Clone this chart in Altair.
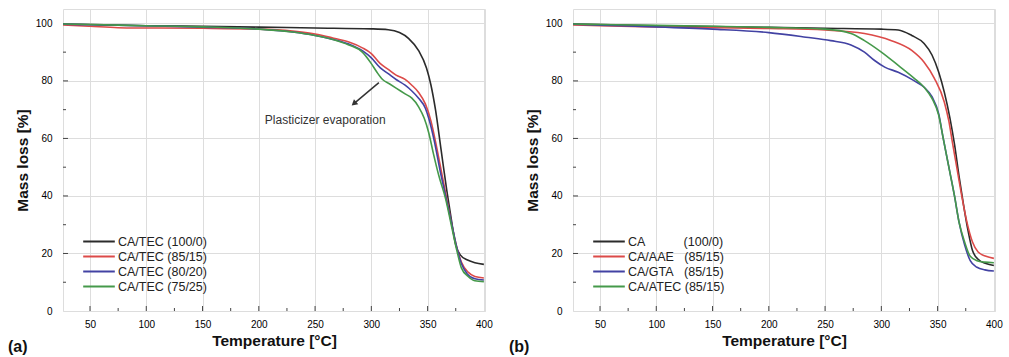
import altair as alt
import pandas as pd

FONT = "Liberation Sans"

# ---------------- panel (a) data ----------------
a_names = ["CA/TEC (100/0)", "CA/TEC (85/15)", "CA/TEC (80/20)", "CA/TEC (75/25)"]
a_colors = ["#2b2b2b", "#dc4a48", "#4242a3", "#45994a"]

a_black_T = [25, 50, 100, 150, 200, 250, 300, 315, 325, 333, 342, 349, 353, 357, 362, 367, 371, 375, 379, 385, 392, 400]
a_black_m = [99.8, 99.6, 99.2, 99.0, 98.7, 98.4, 98.1, 97.8, 96.8, 94.8, 90.5, 84.5, 78.5, 70, 56, 42, 32, 23, 19.5, 17.8, 16.8, 16.2]

a_red_T = [25, 50, 75, 100, 150, 200, 230, 250, 265, 280, 292, 300, 308, 315, 322, 330, 336, 342, 348, 353, 358, 363, 368, 372, 376, 380, 386, 392, 400]
a_red_m = [99.5, 99.0, 98.5, 98.4, 98.3, 98.0, 97.3, 96.3, 95.0, 93.5, 91.5, 89.5, 86.0, 84.0, 82.0, 80.5, 78.5, 76.0, 72.0, 66.0, 57.0, 47.0, 37.0, 29.0, 22.0, 17.0, 13.5, 12.0, 11.5]

a_blue_T = [25, 50, 100, 150, 200, 230, 250, 265, 280, 292, 300, 308, 315, 322, 330, 336, 342, 348, 351, 356, 361, 366, 371, 376, 380, 385, 392, 400]
a_blue_m = [99.7, 99.5, 99.2, 98.7, 98.0, 97.0, 95.8, 94.5, 92.8, 90.5, 88.0, 84.5, 82.5, 80.5, 78.5, 76.5, 74.0, 70.5, 67.0, 59.0, 49.0, 40.0, 31.0, 22.0, 16.5, 13.0, 11.2, 10.8]

a_green_T = [25, 50, 100, 150, 200, 230, 250, 265, 280, 292, 300, 305, 310, 316, 322, 330, 336, 342, 347, 351, 355, 360, 366, 371, 376, 380, 386, 392, 400]
a_green_m = [99.8, 99.6, 99.2, 98.8, 98.0, 97.0, 95.8, 94.5, 92.5, 90.0, 86.0, 83.0, 80.5, 79.0, 77.5, 75.5, 74.0, 71.0, 67.0, 62.0, 55.0, 47.0, 39.0, 30.0, 21.0, 15.0, 12.0, 10.5, 10.2]

# ---------------- panel (b) data ----------------
b_names = ["CA\u00a0\u00a0\u00a0\u00a0\u00a0\u00a0\u00a0\u00a0\u00a0\u00a0\u00a0(100/0)",
           "CA/AAE\u00a0\u00a0\u00a0(85/15)",
           "CA/GTA\u00a0\u00a0\u00a0(85/15)",
           "CA/ATEC (85/15)"]
b_colors = ["#2b2b2b", "#dc4a48", "#4242a3", "#45994a"]

b_black_T = [25, 50, 100, 150, 200, 250, 300, 315, 327, 338, 345, 351, 356, 361, 365, 369, 373, 377, 381, 386, 393, 400]
b_black_m = [99.8, 99.6, 99.2, 98.9, 98.6, 98.3, 98.0, 97.7, 95.8, 93.0, 89.0, 83.0, 76.0, 67.0, 58.0, 47.0, 37.0, 28.0, 21.0, 18.0, 16.5, 15.8]

b_red_T = [25, 50, 100, 150, 200, 250, 285, 309, 327, 338, 347, 356, 360, 363, 367, 371, 376, 381, 386, 393, 400]
b_red_m = [99.5, 99.2, 98.8, 98.5, 98.2, 97.7, 96.5, 94.0, 90.6, 86.5, 81.0, 72.6, 66.0, 59.0, 50.0, 41.0, 31.0, 24.0, 20.5, 19.0, 18.3]

b_blue_T = [25, 50, 100, 150, 200, 233, 255, 273, 285, 294, 303, 315, 329, 338, 345, 351, 355, 360, 365, 369, 374, 379, 385, 392, 400]
b_blue_m = [99.7, 99.4, 98.8, 98.0, 96.8, 95.2, 94.0, 92.5, 90.0, 87.1, 84.8, 83.0, 80.1, 77.8, 74.5, 68.5, 60.0, 50.0, 40.0, 31.0, 23.0, 17.5, 15.2, 14.3, 13.9]

b_green_T = [25, 50, 100, 150, 200, 250, 273, 285, 300, 315, 329, 338, 345, 351, 355, 360, 365, 369, 374, 379, 385, 392, 400]
b_green_m = [99.8, 99.6, 99.3, 99.0, 98.6, 98.0, 96.5, 94.0, 90.0, 85.4, 81.0, 77.8, 73.9, 68.0, 60.0, 50.0, 40.0, 31.0, 24.0, 19.0, 17.5, 17.0, 16.8]

# axis tick values
x_ticks = [50, 100, 150, 200, 250, 300, 350, 400]
x_minor = [50, 75, 100, 125, 150, 175, 200, 225, 250, 275, 300, 325, 350, 375]
y_ticks = [0, 20, 40, 60, 80, 100]
y_minor = [10, 20, 30, 40, 50, 60, 70, 80, 90]

# annotation
ann_text = ["Plasticizer evaporation"]
ann_T, ann_m = [259], [66.5]
arrow_T, arrow_m, arrow_T2, arrow_m2 = [306.7], [79.4], [284.5], [72.1]

W, H = 422, 302
X_DOMAIN = [26, 401]
Y_DOMAIN = [0, 105]
TICK_COLOR = "#444444"
TITLE_SIZE = 15.5


def series_df(names, Ts, ms):
    rows = []
    for name, T, m in zip(names, Ts, ms):
        for t, v in zip(T, m):
            rows.append({"series": name, "T": t, "m": v})
    return pd.DataFrame(rows)


def make_panel(names, colors, Ts, ms, label, legend_x, legend_y, label_x, extra=None):
    xenc = alt.X("T:Q", scale=alt.Scale(domain=X_DOMAIN, nice=False, zero=False),
                 axis=alt.Axis(values=x_ticks, title="Temperature [°C]", grid=True, ticks=False,
                               domain=False, labelPadding=8, titlePadding=4, format="d",
                               titleFont=FONT, titleFontSize=TITLE_SIZE, titleFontWeight="bold",
                               titleColor="#111111"))
    yenc = alt.Y("m:Q", scale=alt.Scale(domain=Y_DOMAIN, nice=False, zero=True),
                 axis=alt.Axis(values=y_ticks, title="Mass loss [%]", grid=True, ticks=False,
                               domain=False, labelPadding=11, titlePadding=5, format="d",
                               titleFont=FONT, titleFontSize=TITLE_SIZE, titleFontWeight="bold",
                               titleColor="#111111"))
    df = series_df(names, Ts, ms)
    lines = alt.Chart(df).mark_line(strokeWidth=1.6, interpolate="monotone", clip=True).encode(
        x=xenc, y=yenc,
        color=alt.Color("series:N", sort=names,
                        scale=alt.Scale(domain=names, range=colors),
                        legend=alt.Legend(orient="none", legendX=legend_x, legendY=legend_y, title=None,
                                          symbolType="stroke", symbolSize=1000, symbolStrokeWidth=2,
                                          clipHeight=13,
                                          labelFont=FONT, labelFontSize=12.5, labelColor="#222222",
                                          rowPadding=2, padding=0, labelOffset=2, labelLimit=400)),
        order=alt.Order("T:Q"),
    )
    xt = pd.DataFrame({"T": x_minor, "len": [5 if t % 50 == 0 else 3 for t in x_minor]})
    xticks_major = alt.Chart(xt[xt["len"] == 5]).mark_rule(color=TICK_COLOR, strokeWidth=1).encode(
        x=xenc, y=alt.value(H), y2=alt.value(H - 5))
    xticks_minor = alt.Chart(xt[xt["len"] == 3]).mark_rule(color=TICK_COLOR, strokeWidth=1).encode(
        x=xenc, y=alt.value(H), y2=alt.value(H - 3))
    yt = pd.DataFrame({"m": y_minor, "len": [5 if v % 20 == 0 else 3 for v in y_minor]})
    yticks_major = alt.Chart(yt[yt["len"] == 5]).mark_rule(color=TICK_COLOR, strokeWidth=1).encode(
        y=yenc, x=alt.value(0), x2=alt.value(5))
    yticks_minor = alt.Chart(yt[yt["len"] == 3]).mark_rule(color=TICK_COLOR, strokeWidth=1).encode(
        y=yenc, x=alt.value(0), x2=alt.value(3))
    lab = alt.Chart(pd.DataFrame({"label": [label]})).mark_text(
        align="left", baseline="middle", font=FONT, fontSize=16, fontWeight="bold", color="#111111"
    ).encode(text="label:N", x=alt.value(label_x), y=alt.value(H + 36))
    layers = [xticks_major, xticks_minor, yticks_major, yticks_minor, lines, lab]
    if extra is not None:
        layers += extra(xenc, yenc)
    return alt.layer(*layers).properties(width=W, height=H)


def annotation(xenc, yenc):
    tdf = pd.DataFrame({"T": ann_T, "m": ann_m, "text": ann_text})
    txt = alt.Chart(tdf).mark_text(font=FONT, fontSize=12, color="#333333", align="center",
                                   baseline="middle").encode(x=xenc, y=yenc, text="text:N")
    adf = pd.DataFrame({"T": arrow_T, "m": arrow_m, "T2": arrow_T2, "m2": arrow_m2})
    rule = alt.Chart(adf).mark_rule(color="#333333", strokeWidth=1.5).encode(
        x=xenc, y=yenc, x2="T2:Q", y2="m2:Q")
    hdf = pd.DataFrame({"T": arrow_T2, "m": arrow_m2})
    head = alt.Chart(hdf).mark_point(shape="triangle-up", filled=True, size=45, angle=230,
                                     color="#333333", opacity=1).encode(x=xenc, y=yenc)
    return [rule, head, txt]


left = make_panel(a_names, a_colors,
                  [a_black_T, a_red_T, a_blue_T, a_green_T],
                  [a_black_m, a_red_m, a_blue_m, a_green_m],
                  "(a)", 19, 226, -55, extra=annotation)
right = make_panel(b_names, b_colors,
                   [b_black_T, b_red_T, b_blue_T, b_green_T],
                   [b_black_m, b_red_m, b_blue_m, b_green_m],
                   "(b)", 19, 226, -64)

chart = alt.hconcat(left, right, spacing=88, bounds="flush").resolve_scale(
    color="independent").resolve_legend(color="independent").properties(
    padding={"left": 7, "top": 8, "right": 5, "bottom": 5}
).configure_view(stroke="#555555", strokeWidth=1.5).configure_axis(
    labelFont=FONT, labelFontSize=10.5, labelColor="#333333",
    titleFont=FONT, titleFontSize=TITLE_SIZE, titleFontWeight="bold", titleColor="#111111",
    gridColor="#cfcfcf", gridDash=[3, 3], gridWidth=1
).configure(background="white")

chart.save("out.html", embed_options={"renderer": "svg", "actions": False})
